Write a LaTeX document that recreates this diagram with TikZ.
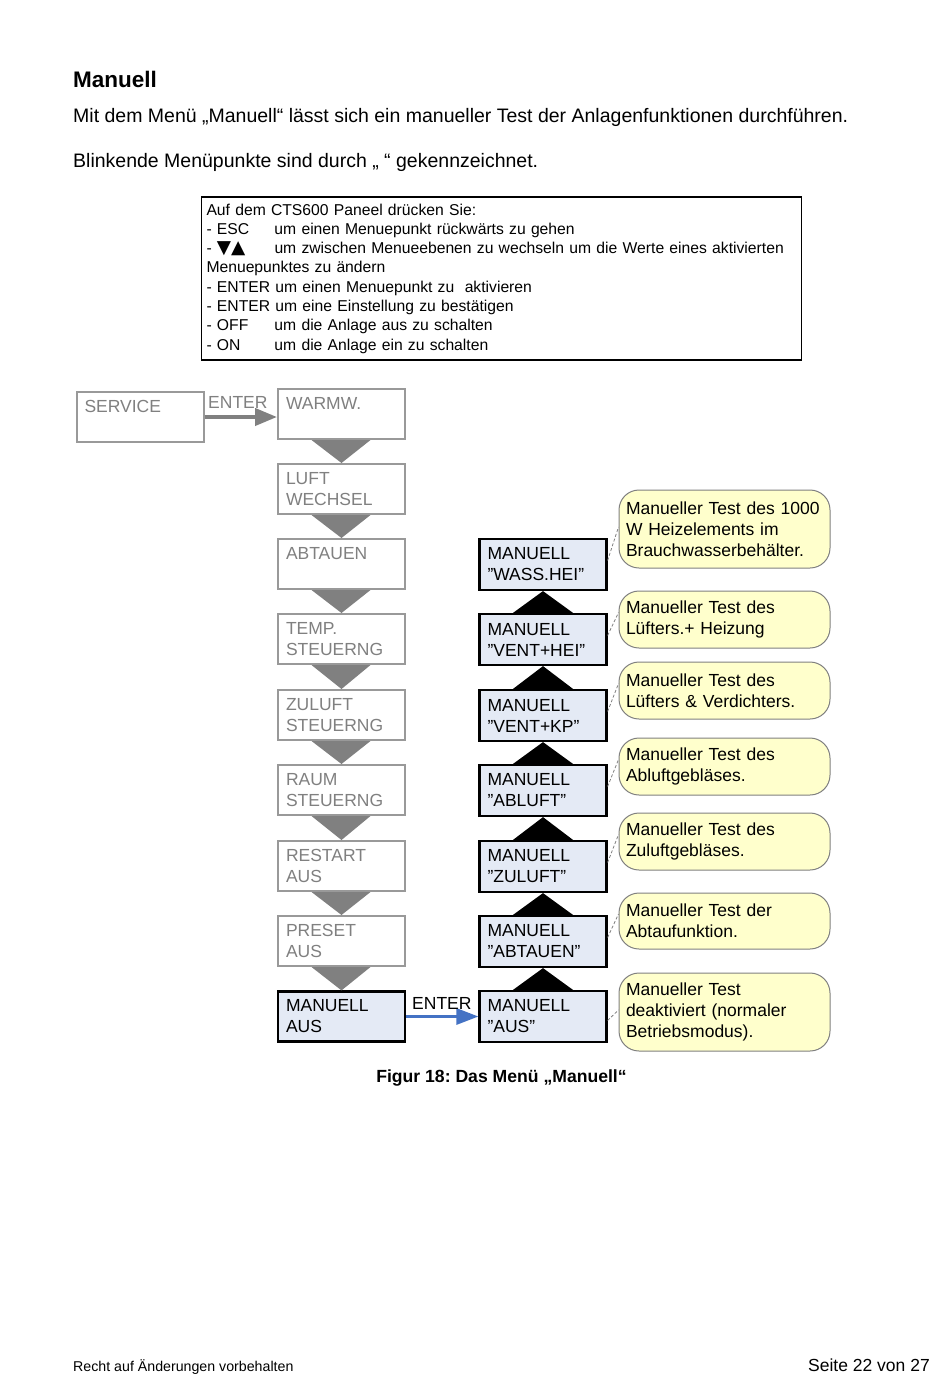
\documentclass[tikz,border=0pt]{standalone}
\usepackage{fontspec}
\setmainfont{Liberation Sans}
\newfontfamily\symfont{DejaVu Sans}
\usetikzlibrary{arrows.meta}
\definecolor{grayline}{HTML}{999999}
\definecolor{graytext}{HTML}{808080}
\definecolor{trigray}{HTML}{808080}
\definecolor{lblue}{HTML}{E4EAF5}
\definecolor{lyellow}{HTML}{FFFFCC}
\definecolor{arrowblue}{HTML}{4472C4}
\frenchspacing
\begin{document}
\begin{tikzpicture}[x=1pt,y=-1pt,
  menu/.style={font=\fontsize{17.5}{21}\selectfont, align=left, text width=111pt,
    minimum width=127pt, minimum height=50pt, inner xsep=8pt, inner ysep=0pt},
  graybox/.style={menu, draw=grayline, line width=2pt, text=graytext},
  bluebox/.style={menu, draw=black, line width=2.2pt, fill=lblue},
  callout/.style={draw=graytext, line width=1pt, fill=lyellow, rounded corners=20pt,
    minimum width=211pt, text width=197pt, inner xsep=7pt, inner ysep=0pt, align=left,
    font=\fontsize{17.5}{21}\selectfont},
  infobox/.style={draw=black, line width=1.5pt, minimum width=597pt, minimum height=163pt,
    text width=590pt, inner xsep=5pt, align=left, font=\fontsize{15.7}{19.3}\selectfont},
  pointer/.style={draw=graytext, line width=0.8pt, dash pattern=on 3pt off 2pt},
  downtri/.style={fill=trigray},
  uptri/.style={fill=black},
  bodytext/.style={anchor=base west, inner sep=0pt, font=\fontsize{19.5}{23}\selectfont}
]
\useasboundingbox[fill=white] (0,0) rectangle (950,1397);

% header
\node[anchor=base west, inner sep=0pt, font=\bfseries\fontsize{22.5}{27}\selectfont] (title) at (73,88) {Manuell};
\node[bodytext] (line1) at (73,122) {Mit dem Menü „Manuell“ lässt sich ein manueller Test der Anlagenfunktionen durchführen.};
\node[bodytext] (line2) at (73,167) {Blinkende Menüpunkte sind durch „ “ gekennzeichnet.};

% info box
\node[infobox] (info) at (501.5,278.5) {Auf dem CTS600 Paneel drücken Sie:\\
\makebox[68pt][l]{- ESC}um einen Menuepunkt rückwärts zu gehen\\
\makebox[68pt][l]{- {\symfont\fontsize{18.5}{15}\selectfont ▼▲}}um zwischen Menueebenen zu wechseln um die Werte eines aktivierten\\
Menuepunktes zu ändern\\
- ENTER um einen Menuepunkt zu\ \ aktivieren\\
- ENTER um eine Einstellung zu bestätigen\\
\makebox[68pt][l]{- OFF}um die Anlage aus zu schalten\\
\makebox[68pt][l]{- ON}um die Anlage ein zu schalten};

% left column
\node[graybox, minimum width=126pt] (service) at (140,417) {SERVICE\\\mbox{}};
\node[graybox] (l1) at (341.5,414) {WARMW.\\\mbox{}};
\node[graybox] (l2) at (341.5,489) {LUFT\\WECHSEL};
\node[graybox] (l3) at (341.5,564) {ABTAUEN\\\mbox{}};
\node[graybox] (l4) at (341.5,639) {TEMP.\\STEUERNG};
\node[graybox] (l5) at (341.5,715) {ZULUFT\\STEUERNG};
\node[graybox] (l6) at (341.5,790) {RAUM\\STEUERNG};
\node[graybox] (l7) at (341.5,866) {RESTART\\AUS};
\node[graybox] (l8) at (341.5,941) {PRESET\\AUS};
\node[bluebox] (l9) at (341.5,1016.5) {MANUELL\\AUS};

\foreach \a/\b in {l1/l2,l2/l3,l3/l4,l4/l5,l5/l6,l6/l7,l7/l8,l8/l9}{
  \fill[downtri] ([xshift=-30pt]\a.south) -- ([xshift=29pt]\a.south) -- (\b.north) -- cycle;
}

% right column
\node[bluebox, minimum height=51pt, minimum width=126pt] (r1) at (543,564.5) {MANUELL\\”WASS.HEI”};
\node[bluebox, minimum height=51pt, minimum width=126pt] (r2) at (543,639.5) {MANUELL\\”VENT+HEI”};
\node[bluebox, minimum height=51pt, minimum width=126pt] (r3) at (543,715.5) {MANUELL\\”VENT+KP”};
\node[bluebox, minimum height=51pt, minimum width=126pt] (r4) at (543,790.5) {MANUELL\\”ABLUFT”};
\node[bluebox, minimum height=51pt, minimum width=126pt] (r5) at (543,866.5) {MANUELL\\”ZULUFT”};
\node[bluebox, minimum height=51pt, minimum width=126pt] (r6) at (543,941.5) {MANUELL\\”ABTAUEN”};
\node[bluebox, minimum height=51pt, minimum width=126pt] (r7) at (543,1016.5) {MANUELL\\”AUS”};

\foreach \a/\b in {r1/r2,r2/r3,r3/r4,r4/r5,r5/r6,r6/r7}{
  \fill[uptri] ([xshift=-30pt]\b.north) -- ([xshift=30pt]\b.north) -- (\a.south) -- cycle;
}

% callouts
\node[callout, minimum height=78pt] (c1) at (724.5,529) {Manueller Test des 1000\\W Heizelements im\\Brauchwasserbehälter.};
\node[callout, minimum height=57pt] (c2) at (724.5,619.5) {Manueller Test des\\Lüfters.+ Heizung};
\node[callout, minimum height=57pt] (c3) at (724.5,690.5) {Manueller Test des\\Lüfters \& Verdichters.};
\node[callout, minimum height=57pt] (c4) at (724.5,766.5) {Manueller Test des\\Abluftgebläses.};
\node[callout, minimum height=57pt] (c5) at (724.5,841.5) {Manueller Test des\\Zuluftgebläses.};
\node[callout, minimum height=56pt] (c6) at (724.5,921) {Manueller Test der\\Abtaufunktion.};
\node[callout, minimum height=78pt] (c7) at (724.5,1012) {Manueller Test\\deaktiviert (normaler\\Betriebsmodus).};

\draw[pointer] ([yshift=4pt]r1.east) -- ([yshift=2pt]c1.west);
\draw[pointer] ([yshift=4pt]r2.east) -- ([yshift=7pt]c2.west);
\draw[pointer] ([yshift=4pt]r3.east) -- ([yshift=7pt]c3.west);
\draw[pointer] ([yshift=4pt]r4.east) -- ([yshift=7pt]c4.west);
\draw[pointer] ([yshift=4pt]r5.east) -- ([yshift=7pt]c5.west);
\draw[pointer] ([yshift=4pt]r6.east) -- ([yshift=7pt]c6.west);
\draw[pointer] ([yshift=-4pt]r7.east) -- ([yshift=2pt]c7.west);

% arrows
\draw[trigray, line width=4pt, -{Triangle[length=22pt,width=17pt]}] (service.east) -- (service.east -| l1.west);
\node[anchor=base west, inner sep=0pt, text=graytext, font=\fontsize{17.5}{21}\selectfont] (enter1) at (208,408) {ENTER};
\draw[arrowblue, line width=3pt, -{Triangle[length=22pt,width=16pt]}] (l9.east) -- (r7.west);
\node[anchor=base west, inner sep=0pt, font=\fontsize{17.5}{21}\selectfont] (enter2) at (412,1009) {ENTER};

% caption and footer
\node[anchor=base, inner sep=0pt, font=\bfseries\fontsize{17.6}{21}\selectfont] (caption) at (501.5,1082) {Figur 18: Das Menü „Manuell“};
\node[anchor=base west, inner sep=0pt, font=\fontsize{14.2}{17}\selectfont] (footl) at (73,1371) {Recht auf Änderungen vorbehalten};
\node[anchor=base east, inner sep=0pt, font=\fontsize{17.5}{21}\selectfont] (footr) at (930,1371) {Seite 22 von 27};
\end{tikzpicture}
\end{document}
